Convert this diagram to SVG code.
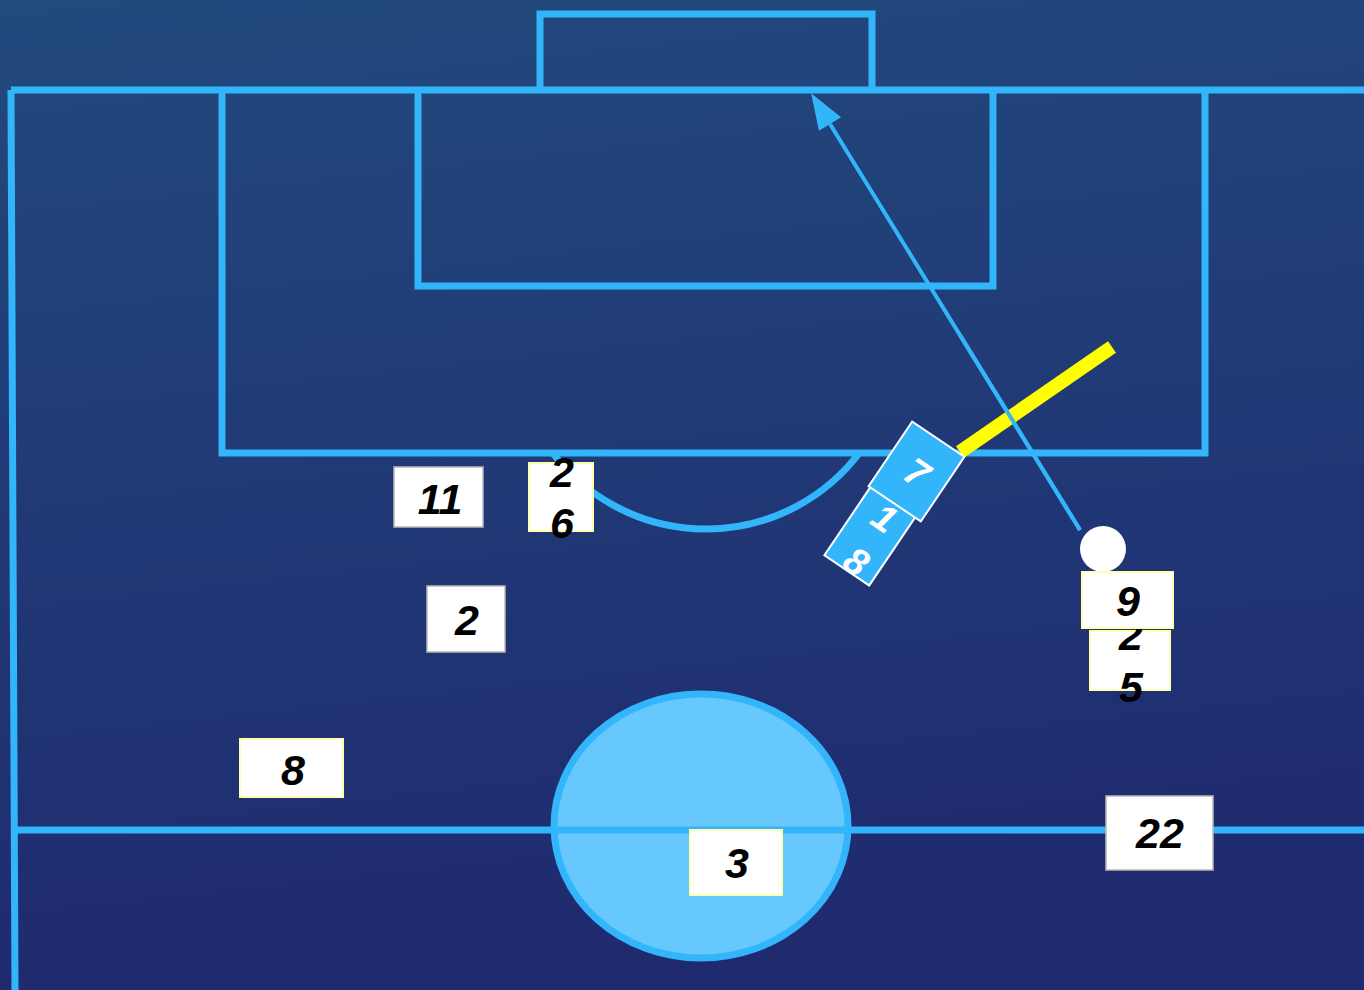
<svg xmlns="http://www.w3.org/2000/svg" width="1364" height="990" viewBox="0 0 1364 990">
<defs>
<linearGradient id="bg" x1="0" y1="0" x2="0.15" y2="1">
<stop offset="0" stop-color="#224a7d"/>
<stop offset="1" stop-color="#1f2a6f"/>
</linearGradient>
<marker id="ah" markerUnits="userSpaceOnUse" markerWidth="40" markerHeight="30" refX="0" refY="13" orient="auto" overflow="visible">
<path d="M0,0 L36,13 L0,26 z" fill="#33b5fb"/>
</marker>
<style>
.ln{fill:none;stroke:#33b5fb;stroke-width:7}
.box{fill:#ffffff;stroke:#b8b8b8;stroke-width:1.5}
.boxy{fill:#ffffff;stroke:#ffffb0;stroke-width:2}
.num{font-family:"Liberation Sans",Arial,sans-serif;font-weight:bold;font-style:italic;font-size:43px;fill:#000;text-anchor:middle}
.pl{fill:#33b5fb;stroke:#ffffff;stroke-width:2}
.wnum{font-family:"Liberation Sans",Arial,sans-serif;font-weight:bold;font-style:italic;font-size:38px;fill:#fff;text-anchor:middle}
</style>
</defs>
<rect width="1364" height="990" fill="url(#bg)"/>
<g id="pitch">
<path class="ln" d="M540,90 V14 H872 V90" stroke-width="9"/>
<path class="ln" d="M11,90 H1364"/>
<path class="ln" d="M11,90 L15,990"/>
<path class="ln" d="M222,90 V453 H1205 V90"/>
<path class="ln" d="M418,90 V286 H993 V90"/>
<ellipse cx="701" cy="826" rx="147" ry="132" fill="#66c8fc" stroke="#33b5fb" stroke-width="7"/>
<path class="ln" d="M15,830 H1364"/>
<path class="ln" d="M552,452 A192.5,192.5 0 0 0 860,452"/>
</g>
<g id="connectors">
<line x1="1080" y1="530" x2="830" y2="124" stroke="#33b5fb" stroke-width="4" marker-end="url(#ah)"/>
</g>
<g id="wall-line">
<line x1="960" y1="452" x2="1112" y2="347" stroke="#ffff00" stroke-width="14"/>
</g>
<line x1="1080" y1="530" x2="960" y2="335" stroke="#33b5fb" stroke-width="4"/>
<g id="p18" transform="translate(870,536) rotate(34)">
<rect class="pl" x="-27" y="-41.5" width="54" height="83"/>
<text class="wnum" x="2" y="-10">1</text>
<text class="wnum" x="3" y="42">8</text>
</g>
<g id="p7" transform="translate(916.5,471.5) rotate(34)">
<rect class="pl" x="-31.5" y="-39" width="63" height="78"/>
<text class="wnum" x="1" y="14">7</text>
</g>
<g id="ball"><circle cx="1103" cy="549" r="23" fill="#ffffff"/></g>
<g id="n11"><rect class="box" x="394" y="467" width="89" height="60"/><text class="num" x="440" y="514">11</text></g>
<g id="n26"><rect class="boxy" x="529" y="463" width="64" height="68"/><text class="num" x="562" y="487">2</text><text class="num" x="562" y="538">6</text></g>
<g id="n2"><rect class="box" x="427" y="586" width="78" height="66"/><text class="num" x="467" y="635">2</text></g>
<g id="n8"><rect class="boxy" x="240" y="739" width="103" height="58"/><text class="num" x="293" y="785">8</text></g>
<g id="n25"><rect class="boxy" x="1090" y="631" width="80" height="59"/><text class="num" x="1131" y="650">2</text><text class="num" x="1131" y="702">5</text></g>
<g id="n9"><rect class="boxy" x="1082" y="572" width="91" height="56"/><text class="num" x="1128" y="616">9</text></g>
<g id="n3"><rect class="boxy" x="690" y="830" width="92" height="65"/><text class="num" x="737" y="878">3</text></g>
<g id="n22"><rect class="box" x="1106" y="796" width="107" height="74"/><text class="num" x="1160" y="848">22</text></g>
</svg>
